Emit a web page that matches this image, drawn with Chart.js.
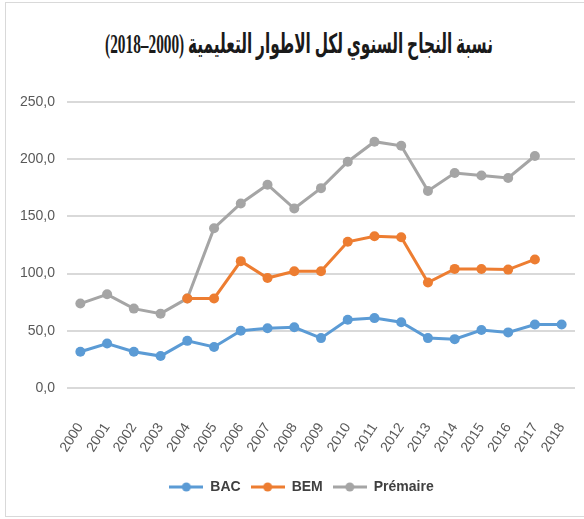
<!DOCTYPE html>
<html>
<head>
<meta charset="utf-8">
<script src="https://cdn.jsdelivr.net/npm/chart.js@4.4.0/dist/chart.umd.min.js"></script>
<style>
	html, body { margin: 0; padding: 0; background: #fff; }
	.frame {
		position: relative;
		width: 584px;
		height: 519px;
		overflow: hidden;
	}
	.frame-border {
		position: absolute;
		left: 5px; top: 2px;
		width: 600px; height: 515px;
		border: 1px solid #d9d9d9;
		box-sizing: border-box;
	}
	.chart-title {
		position: absolute;
		left: 299px; width: 0;
		top: 28px;
	}
	.chart-title span {
		position: absolute;
		left: 0; top: 0;
		white-space: nowrap;
		font-family: "Liberation Serif", "DejaVu Sans", serif;
		font-weight: bold;
		font-size: 27px;
		color: #1a1a1a;
		transform-origin: center;
	}
	canvas { position: absolute; left: 0; top: 0; }
</style>
</head>
<body>
<div class="frame">
	<div class="frame-border"></div>
	<div class="chart-title"><span id="title" dir="rtl">نسبة النجاح السنوي لكل الاطوار التعليمية (2000–2018)</span></div>
	<canvas id="rates" width="584" height="519"></canvas>
</div>

<script>
const years = ['2000','2001','2002','2003','2004','2005','2006','2007','2008','2009',
	'2010','2011','2012','2013','2014','2015','2016','2017','2018'];

const bac = [31.7, 38.9, 31.7, 27.9, 41.2, 35.9, 50.1, 52.2, 53.1, 43.6,
	59.6, 61.1, 57.5, 43.6, 42.7, 50.7, 48.6, 55.5, 55.5];

const bem = [null, null, null, null, 78.3, 78.3, 110.9, 96.1, 102.0, 102.0,
	127.8, 132.6, 131.7, 92.2, 104.1, 104.0, 103.5, 112.4, null];

const premaire = [73.8, 81.9, 69.4, 65.0, 78.3, 139.7, 161.3, 177.7, 156.9, 174.7,
	197.8, 215.3, 211.7, 172.3, 188.0, 185.7, 183.6, 202.8, null];

const yTicks = [0, 50, 100, 150, 200, 250];

const BLUE = '#5b9bd5';
const ORANGE = '#ed7d31';
const GREY = '#a5a5a5';
const TEXT = '#595959';
const SANS = '"Liberation Sans", Arial, sans-serif';

// centre the title and squeeze it to its box width
const titleEl = document.getElementById('title');
titleEl.style.transform = 'translateX(-50%) scaleX(' + (388 / titleEl.offsetWidth) + ')';

// legend swatch: short line with a dot in the middle
function swatch(color) {
	const c = document.createElement('canvas');
	c.width = 34; c.height = 12;
	const g = c.getContext('2d');
	g.strokeStyle = color;
	g.lineWidth = 3;
	g.beginPath(); g.moveTo(0, 6); g.lineTo(34, 6); g.stroke();
	g.fillStyle = color;
	g.beginPath(); g.arc(17, 6, 4.5, 0, Math.PI * 2); g.fill();
	return c;
}

function series(label, data, color) {
	return {
		label: label,
		data: data,
		borderColor: color,
		backgroundColor: color,
		borderWidth: 3,
		pointRadius: 5,
		pointBorderWidth: 0,
		pointStyle: 'circle',
		tension: 0
	};
}

// nudge the legend a bit right of the canvas centre
const legendShift = {
	id: 'legendShift',
	afterLayout(c) {
		c.legend.left += 14;
		c.legend.right += 14;
	}
};

new Chart(document.getElementById('rates'), {
	type: 'line',
	data: {
		labels: years,
		datasets: [
			series('BAC', bac, BLUE),
			series('BEM', bem, ORANGE),
			series('Prémaire', premaire, GREY)
		]
	},
	plugins: [legendShift],
	options: {
		responsive: false,
		animation: false,
		devicePixelRatio: 1,
		layout: { padding: { top: 102, right: 9, left: 0, bottom: 15 } },
		plugins: {
			tooltip: { enabled: false },
			legend: {
				position: 'bottom',
				labels: {
					usePointStyle: true,
					pointStyleWidth: 34,
					generateLabels: (ch) => ch.data.datasets.map((ds, i) => ({
						text: ds.label,
						pointStyle: swatch(ds.borderColor),
						fontColor: '#404040',
						datasetIndex: i,
						hidden: false
					})),
					font: { family: SANS, size: 14, weight: 'bold' },
					padding: 10
				}
			}
		},
		scales: {
			x: {
				offset: true,
				grid: { display: false, drawTicks: false },
				border: { display: false },
				ticks: {
					color: TEXT,
					font: { family: SANS, size: 14 },
					minRotation: 57,
					maxRotation: 57,
					autoSkip: false,
					padding: 32
				},
				// fixed height, and no extra side room for the slanted labels
				afterFit: (s) => {
					s.height = 82;
					s.paddingLeft = 0;
					s.paddingRight = 0;
				}
			},
			y: {
				min: 0,
				max: 250,
				afterBuildTicks: (s) => { s.ticks = yTicks.map(v => ({ value: v })); },
				grid: { color: '#d9d9d9', lineWidth: 2, drawTicks: false },
				border: { display: false },
				ticks: {
					color: TEXT,
					font: { family: SANS, size: 14 },
					padding: 12,
					callback: (v) => v.toFixed(1).replace('.', ',')
				},
				afterFit: (s) => { s.width = 67; }
			}
		}
	}
});
</script>
</body>
</html>
